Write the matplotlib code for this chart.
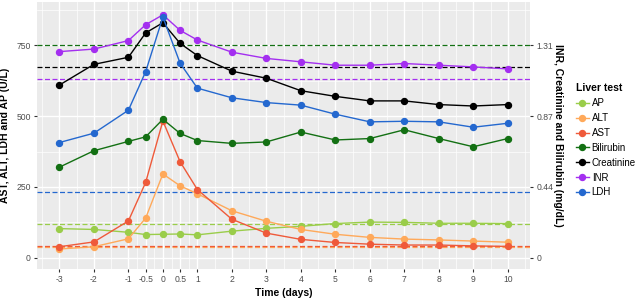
import numpy as np
import matplotlib.pyplot as plt
from matplotlib.ticker import FixedLocator

plt.rcParams['font.family'] = ['Liberation Sans', 'DejaVu Sans']

# time points (days) and tick labels
days = [-3, -2, -1, -0.5, 0, 0.5, 1, 2, 3, 4, 5, 6, 7, 8, 9, 10]
tick_labels = ['-3', '-2', '-1', '-0.5', '0', '0.5', '1', '2', '3', '4', '5', '6', '7', '8', '9', '10']

# series, all on the left (U/L) scale; INR/Creatinine/Bilirubin read via secondary axis
ap = [103, 100, 90, 82, 83, 84, 81, 94, 104, 111, 121, 126, 125, 122, 122, 121]
alt = [31, 39, 67, 140, 296, 254, 226, 166, 129, 100, 83, 72, 66, 63, 59, 55]
ast = [39, 56, 130, 266, 483, 339, 241, 136, 87, 65, 54, 48, 45, 45, 42, 40]
bilirubin = [320, 378, 411, 427, 489, 439, 414, 404, 409, 444, 416, 421, 452, 421, 392, 421]
creatinine = [610, 683, 708, 794, 830, 757, 714, 659, 634, 590, 570, 554, 554, 541, 536, 541]
inr = [728, 737, 767, 823, 858, 803, 769, 726, 704, 692, 680, 680, 686, 680, 674, 667]
ldh = [407, 440, 521, 657, 850, 687, 599, 565, 548, 539, 507, 480, 482, 480, 461, 475]

# reference (normal limit) lines
ref_lines = {'Bilirubin': 750, 'Creatinine': 674, 'INR': 633, 'LDH': 233,
             'AP': 121, 'ALT': 39, 'AST': 40}

names = ['AP', 'ALT', 'AST', 'Bilirubin', 'Creatinine', 'INR', 'LDH']
series = [ap, alt, ast, bilirubin, creatinine, inr, ldh]
colors = {'AP': '#9acd4a', 'ALT': '#ffa95a', 'AST': '#ef5a3a', 'Bilirubin': '#137013',
          'Creatinine': '#000000', 'INR': '#a42ff0', 'LDH': '#2468cf'}

sec_scale = 1.31 / 750

fig = plt.figure(figsize=(6.38, 3.0), dpi=100)
ax = fig.add_axes([0.058, 0.103, 0.773, 0.892])
ax.set_facecolor('#ebebeb')
for s in ax.spines.values():
    s.set_visible(False)

ax.set_xlim(-3.65, 10.65)
ax.set_ylim(-40, 905)

# grid like ggplot
major_x = days
minor_x = [-3.5] + [(a + b) / 2 for a, b in zip(days[:-1], days[1:])] + [10.5]
ax.xaxis.set_major_locator(FixedLocator(major_x))
ax.xaxis.set_minor_locator(FixedLocator(minor_x))
ax.yaxis.set_major_locator(FixedLocator([0, 250, 500, 750]))
ax.yaxis.set_minor_locator(FixedLocator([125, 375, 625, 875]))
ax.grid(which='major', color='white', lw=1.0)
ax.grid(which='minor', color='white', lw=0.5)
ax.set_axisbelow(True)
ax.set_xticklabels(tick_labels)
ax.tick_params(which='major', length=2.2, color='#333333', labelsize=6.2, labelcolor='#4d4d4d', pad=2.2)
ax.tick_params(which='minor', length=0)

for name in ['Bilirubin', 'Creatinine', 'INR', 'LDH', 'AP', 'ALT', 'AST']:
    ax.axhline(ref_lines[name], color=colors[name], lw=0.9, ls=(0, (4, 2)), zorder=1)

handles = []
for name, vals in zip(names, series):
    h, = ax.plot(days, vals, color=colors[name], lw=1.0, marker='o', ms=4.3, zorder=3, label=name)
    handles.append(h)

ax.set_xlabel('Time (days)', fontsize=7.5, fontweight='bold', labelpad=3)
ax.set_ylabel('AST, ALT, LDH and AP (U/L)', fontsize=7.5, fontweight='bold')
ax.yaxis.set_label_coords(-0.054, 0.5)

ax2 = ax.twinx()
ax2.set_ylim(ax.get_ylim())
for s in ax2.spines.values():
    s.set_visible(False)
sec_ticks = [0, 250, 500, 750]
ax2.set_yticks(sec_ticks)
ax2.set_yticklabels(['%g' % round(t * sec_scale, 2) for t in sec_ticks])
ax2.tick_params(length=2.2, color='#333333', labelsize=6.2, labelcolor='#4d4d4d', pad=2.2)
ax2.set_ylabel('INR, Creatinine and Bilirubin (mg/dL)', fontsize=7.5, fontweight='bold',
               rotation=270, labelpad=7)

leg = fig.legend(handles=handles, loc='upper left', bbox_to_anchor=(0.897, 0.735),
                 frameon=False, fontsize=7, title='Liver test', handlelength=1.3,
                 handletextpad=0.3, labelspacing=0.5, borderaxespad=0)
leg.get_title().set_fontweight('bold')
leg.get_title().set_fontsize(7.5)
leg._legend_box.align = 'left'

fig.savefig('out.png', dpi=100)
